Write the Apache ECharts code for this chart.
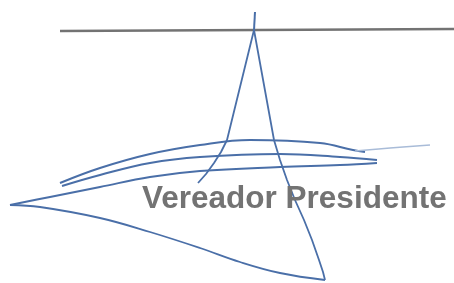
<!DOCTYPE html>
<html lang="pt">
<head>
    <meta charset="UTF-8">
    <title>Vereador Presidente</title>
    <script src="https://cdn.jsdelivr.net/npm/echarts/dist/echarts.min.js"></script>
    <style>
        html, body { margin: 0; padding: 0; background: #ffffff; }
        #chart { width: 454px; height: 283px; }
    </style>
</head>
<body>
    <div id="chart"></div>
    <script>
        // pontos (x, y em pixels da figura, y para baixo)
        let signLine = [[60, 31], [454, 29]];
        let spike = [[254, 30], [255, 12]];
        let leftLeg = [[254, 30], [227, 140], [221, 152], [214, 163], [206, 174], [198, 183]];
        let rightLeg = [[254, 30], [274, 140], [280, 160], [287, 180], [295, 200], [304, 220], [312, 240], [319, 260], [323, 272], [325, 280]];
        let bottomStroke = [[10, 205], [40, 207], [100, 218], [150, 232], [200, 248], [240, 262], [280, 273], [325, 280]];
        let lowSweep = [[10, 205], [50, 197], [100, 187], [150, 177], [200, 171], [280, 167], [340, 165], [377, 163]];
        let midSweep = [[62, 186], [100, 175], [150, 163], [200, 157], [280, 154], [340, 157], [377, 160]];
        let topArc = [[60, 183], [100, 168], [150, 154], [200, 145], [250, 140], [320, 143], [353, 150], [365, 152]];
        let tail = [[355, 151], [390, 148], [430, 145]];
        let caption = 'Vereador Presidente';

        function stroke(data, color, width, smooth) {
            return {
                type: 'line',
                data: data,
                symbol: 'none',
                smooth: smooth,
                silent: true,
                lineStyle: { color: color, width: width }
            };
        }

        let ink = '#4a6fa8';
        let option = {
            backgroundColor: '#ffffff',
            animation: false,
            title: {
                text: caption,
                left: 142,
                top: 183,
                padding: 0,
                textStyle: {
                    color: '#737373',
                    fontFamily: 'Liberation Sans',
                    fontWeight: 'bold',
                    fontSize: 31.5
                }
            },
            grid: { left: 0, right: 0, top: 0, bottom: 0 },
            xAxis: { type: 'value', min: 0, max: 454, show: false },
            yAxis: { type: 'value', min: 0, max: 283, inverse: true, show: false },
            series: [
                stroke(signLine, '#737373', 2.5, false),
                stroke(spike, ink, 2, false),
                stroke(leftLeg, ink, 1.8, false),
                stroke(rightLeg, ink, 1.8, false),
                stroke(bottomStroke, ink, 1.8, 0.4),
                stroke(lowSweep, ink, 2, 0.4),
                stroke(midSweep, ink, 2, 0.4),
                stroke(topArc, ink, 2, 0.4),
                stroke(tail, '#a9bcd8', 1.5, 0.4)
            ]
        };

        let chart = echarts.init(document.getElementById('chart'));
        chart.setOption(option);
    </script>
</body>
</html>
